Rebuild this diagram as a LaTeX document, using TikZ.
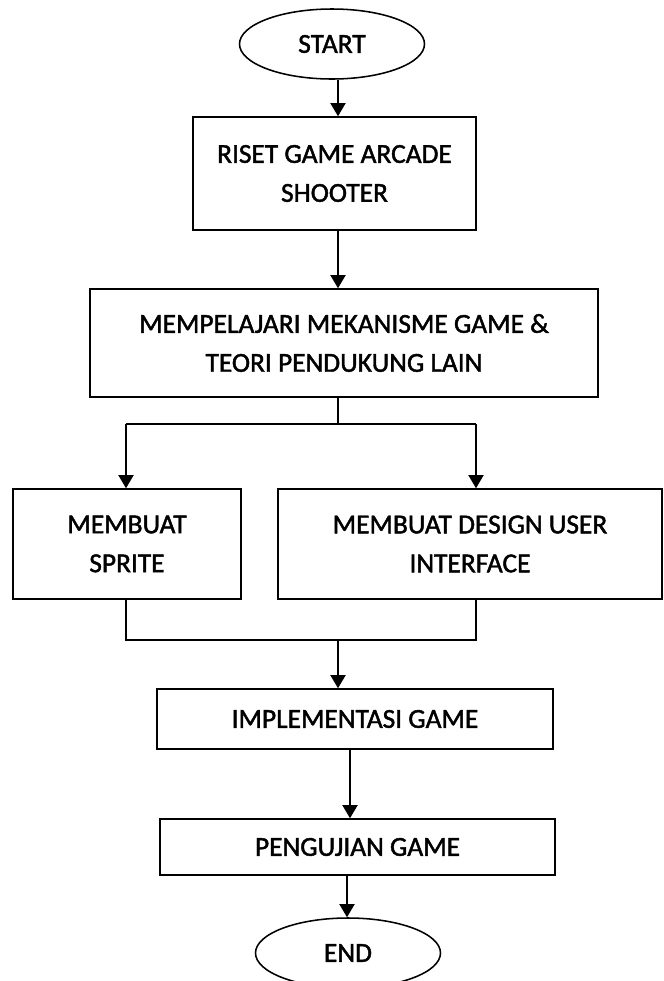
\documentclass[tikz,border=0pt]{standalone}
\usepackage{fontspec}
\setmainfont{Carlito}[FakeBold=1.6,AutoFakeBold=1.6]
\usepackage{tikz}
\usetikzlibrary{arrows.meta,positioning,shapes.geometric}
\tikzset{
  flow/.style={line width=1.1pt},
  arr/.style={flow,-{Triangle[length=3.3mm,width=3.8mm]}},
  stepbox/.style={draw,flow,rectangle,align=center,inner sep=0pt},
  term/.style={draw,flow,ellipse,inner sep=0pt,minimum width=4.625cm,minimum height=1.75cm},
}

\begin{document}
\begin{tikzpicture}[font=\fontsize{19.5}{27.7}\selectfont\bfseries]
\useasboundingbox (0,0) rectangle (16.6,-24.525);
\node[term] (start) at (8.3,-1.1) {START};
\node[stepbox,minimum width=7.075cm,minimum height=2.825cm] (riset) at (8.3625,-4.3375) {RISET GAME ARCADE\\SHOOTER};
\node[stepbox,minimum width=12.7cm,minimum height=2.7cm] (mekanisme) at (8.6,-8.575) {MEMPELAJARI MEKANISME GAME \&\\TEORI PENDUKUNG LAIN};
\node[stepbox,minimum width=5.7cm,minimum height=2.75cm] (sprite) at (3.175,-13.6) {MEMBUAT\\SPRITE};
\node[stepbox,minimum width=9.6cm,minimum height=2.75cm] (design) at (11.75,-13.6) {MEMBUAT DESIGN USER\\INTERFACE};
\node[stepbox,minimum width=9.9cm,minimum height=1.5cm] (impl) at (8.875,-17.975) {IMPLEMENTASI GAME};
\node[stepbox,minimum width=9.875cm,minimum height=1.4cm] (uji) at (8.9375,-21.175) {PENGUJIAN GAME};
\node[term] (end) at (8.7,-23.825) {END};
% branch points
\coordinate (spine) at (8.45,0);
\coordinate (fork) at (8.45,-10.6);
\coordinate (forkL) at (3.15,-10.6);
\coordinate (forkR) at (11.9,-10.6);
\coordinate (merge) at (8.45,-16.0);
\coordinate (mergeL) at (3.15,-16.0);
\coordinate (mergeR) at (11.9,-16.0);
\coordinate (lowA) at (8.75,0);
\coordinate (lowB) at (8.675,0);
\draw[arr] (start.south -| spine) -- (riset.north -| spine);
\draw[arr] (riset.south -| spine) -- (mekanisme.north -| spine);
\draw[flow] (mekanisme.south -| fork) -- (fork);
\draw[flow] (forkL) -- (forkR);
\draw[arr] (forkL) -- (sprite.north -| forkL);
\draw[arr] (forkR) -- (design.north -| forkR);
\draw[flow] (sprite.south -| mergeL) -- (mergeL) -- (mergeR) -- (design.south -| mergeR);
\draw[arr] (merge) -- (impl.north -| merge);
\draw[arr] (impl.south -| lowA) -- (uji.north -| lowA);
\draw[arr] (uji.south -| lowB) -- (end.north -| lowB);
\end{tikzpicture}
\end{document}
